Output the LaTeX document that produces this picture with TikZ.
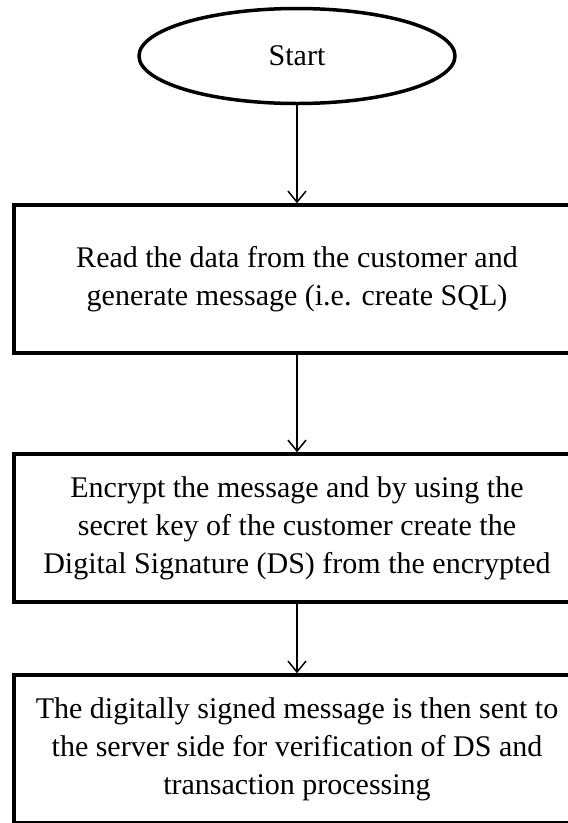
\documentclass[tikz,border=0pt]{standalone}
\usepackage{fontspec}
\setmainfont{Liberation Serif}
\usetikzlibrary{arrows.meta,shapes.geometric}
\tikzset{
  stepbox/.style={draw, line width=3.5pt, minimum width=566pt, minimum height=148pt,
                  inner sep=0pt, align=center, font=\fontsize{30}{38}\selectfont},
  startnode/.style={draw, ellipse, line width=3.5pt, minimum width=316pt, minimum height=95pt,
                    inner sep=0pt, font=\fontsize{30}{38}\selectfont},
  flow/.style={-{Straight Barb[length=11pt, width=18pt, line width=1.5pt]}, line width=1.5pt},
}

\begin{document}
\begin{tikzpicture}[x=1pt, y=-1pt]
  \useasboundingbox (0,0) rectangle (568,823);
  \node[startnode] (start) at (297,56) {Start};
  \node[stepbox] (read) at (297,279) {Read the data from the customer and\\generate message (i.e. create SQL)};
  \node[stepbox] (encrypt) at (297,528) {Encrypt the message and by using the\\secret key of the customer create the\\Digital Signature (DS) from the encrypted};
  \node[stepbox] (send) at (297,749) {The digitally signed message is then sent to\\the server side for verification of DS and\\transaction processing};
  \draw[flow] (start) -- (read);
  \draw[flow] (read) -- (encrypt);
  \draw[flow] (encrypt) -- (send);
\end{tikzpicture}
\end{document}
